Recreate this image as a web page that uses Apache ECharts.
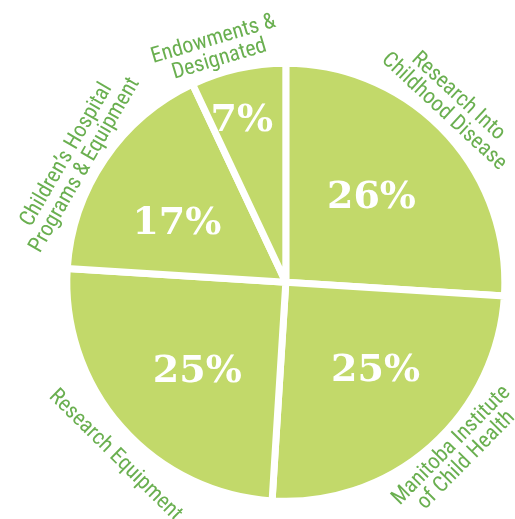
<!DOCTYPE html>
<html>
<head>
<meta charset="utf-8">
<script src="https://cdn.jsdelivr.net/npm/echarts@6/dist/echarts.min.js"></script>
<style>
html,body{margin:0;padding:0;background:#fff;}
#c{width:515px;height:519px;}
</style>
</head>
<body>
<div id="c"></div>
<script>
const categories = [
  'Research Into\nChildhood Disease',
  'Manitoba Institute\nof Child Health',
  'Research Equipment',
  'Children\u2019s Hospital\nPrograms & Equipment',
  'Endowments &\nDesignated'
];
const values = [26, 25, 25, 17, 7];
const percentLabels = ['26%', '25%', '25%', '17%', '7%'];

const chart = echarts.init(document.getElementById('c'), null, {renderer: 'canvas'});
const center = ['55.5%', '54.4%'];

const pieData = categories.map((n, i) => ({name: n, value: values[i]}));
const pctData = categories.map((n, i) => ({
  name: n, value: values[i],
  label: i === 4 ? {offset: [-8, -40]} : (i === 0 ? {offset: [0, 8]} : (i === 3 ? {offset: [0, 5]} : undefined))
}));

chart.setOption({
  animation: false,
  series: [
    {
      type: 'pie',
      center: center,
      radius: [0, 219],
      startAngle: 90,
      clockwise: true,
      silent: true,
      itemStyle: {color: '#c2d96a', borderColor: '#ffffff', borderWidth: 7},
      label: {show: false},
      labelLine: {show: false},
      data: pieData
    },
    {
      type: 'pie',
      center: center,
      radius: [0, 246],
      startAngle: 94,
      silent: true,
      itemStyle: {color: 'rgba(0,0,0,0)'},
      label: {
        show: true,
        position: 'inside',
        formatter: p => percentLabels[p.dataIndex],
        color: '#ffffff',
        fontFamily: 'DejaVu Serif',
        fontWeight: 'bold',
        fontSize: 38
      },
      labelLine: {show: false},
      data: pctData
    },
    {
      type: 'pie',
      center: center,
      radius: [221, 259],
      startAngle: 94,
      silent: true,
      itemStyle: {color: 'rgba(0,0,0,0)'},
      label: {
        show: true,
        position: 'inside',
        rotate: 'tangential',
        formatter: p => p.name,
        color: '#6aaf50',
        fontFamily: '"Liberation Sans Narrow", "Roboto Condensed", Roboto, sans-serif',
        fontSize: 22,
        lineHeight: 21
      },
      labelLine: {show: false},
      data: pieData
    }
  ]
});
</script>
</body>
</html>
